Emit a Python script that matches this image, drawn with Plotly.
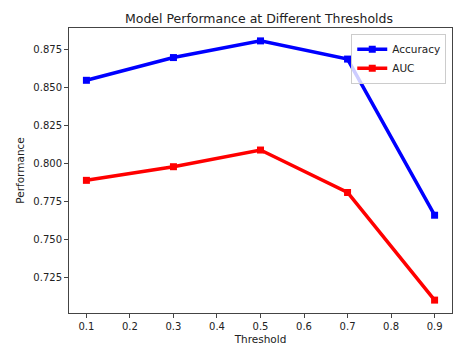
import plotly.graph_objects as go

thresholds = [0.1, 0.3, 0.5, 0.7, 0.9]
accuracy = [0.855, 0.870, 0.881, 0.869, 0.766]
auc = [0.789, 0.798, 0.809, 0.781, 0.710]

fig = go.Figure()
fig.add_scatter(x=thresholds, y=accuracy, mode="lines+markers", name="Accuracy",
                line=dict(color="#0000ff", width=3.5),
                marker=dict(symbol="square", size=7, color="#0000ff"))
fig.add_scatter(x=thresholds, y=auc, mode="lines+markers", name="AUC",
                line=dict(color="#ff0000", width=3.5),
                marker=dict(symbol="square", size=7, color="#ff0000"))

axis_style = dict(showline=True, linecolor="#444", linewidth=1, mirror=True,
                  ticks="outside", ticklen=4, tickcolor="#444", showgrid=False,
                  zeroline=False, tickfont=dict(size=10, color="#222"))

fig.update_xaxes(range=[0.06, 0.94], tick0=0.1, dtick=0.1, tickformat=".1f",
                 title=dict(text="Threshold", font=dict(size=10.5, color="#222"), standoff=4),
                 **axis_style)
fig.update_yaxes(range=[0.7015, 0.8895], tick0=0.725, dtick=0.025, tickformat=".3f",
                 title=dict(text="Performance", font=dict(size=10.5, color="#222"), standoff=6),
                 **axis_style)

# page body has an 8px margin, so the figure is a bit smaller than the window
fig.update_layout(
    width=467, height=346,
    margin=dict(l=61, r=23, t=20, b=41),
    paper_bgcolor="white", plot_bgcolor="white",
    font=dict(family="DejaVu Sans", color="#222"),
    title=dict(text="Model Performance at Different Thresholds",
               font=dict(size=12.5, color="#222"),
               x=0.5375, xanchor="center", y=0.968, yanchor="middle"),
    legend=dict(x=0.985, y=0.98, xanchor="right", yanchor="top",
                bgcolor="rgba(255,255,255,0.8)", bordercolor="#ccc", borderwidth=1,
                font=dict(size=10.5), itemwidth=30, tracegroupgap=0),
)

fig.write_html("out.html")
